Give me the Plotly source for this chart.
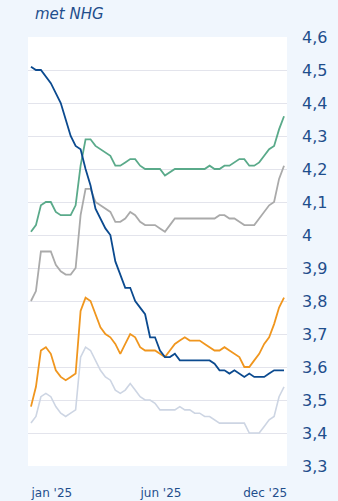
import plotly.graph_objects as go

weeks = list(range(52))

tick_labels = ["jan '25", "jun '25", "dec '25"]
tick_positions = [4.2, 26.2, 47.2]

serie_blauw = [4.51, 4.50, 4.50, 4.48, 4.46, 4.43, 4.40, 4.35, 4.30, 4.27, 4.26, 4.20, 4.15, 4.08, 4.05, 4.02,
               4.00, 3.92, 3.88, 3.84, 3.84, 3.80, 3.78, 3.76, 3.69, 3.69, 3.65, 3.63, 3.63, 3.64, 3.62, 3.62,
               3.62, 3.62, 3.62, 3.62, 3.62, 3.61, 3.59, 3.59, 3.58, 3.59, 3.58, 3.57, 3.58, 3.57, 3.57, 3.57,
               3.58, 3.59, 3.59, 3.59]
serie_groen = [4.01, 4.03, 4.09, 4.10, 4.10, 4.07, 4.06, 4.06, 4.06, 4.09, 4.21, 4.29, 4.29, 4.27, 4.26, 4.25,
               4.24, 4.21, 4.21, 4.22, 4.23, 4.23, 4.21, 4.20, 4.20, 4.20, 4.20, 4.18, 4.19, 4.20, 4.20, 4.20,
               4.20, 4.20, 4.20, 4.20, 4.21, 4.20, 4.20, 4.21, 4.21, 4.22, 4.23, 4.23, 4.21, 4.21, 4.22, 4.24,
               4.26, 4.27, 4.32, 4.36]
serie_grijs = [3.80, 3.83, 3.95, 3.95, 3.95, 3.91, 3.89, 3.88, 3.88, 3.90, 4.06, 4.14, 4.14, 4.10, 4.09, 4.08,
               4.07, 4.04, 4.04, 4.05, 4.07, 4.06, 4.04, 4.03, 4.03, 4.03, 4.02, 4.01, 4.03, 4.05, 4.05, 4.05,
               4.05, 4.05, 4.05, 4.05, 4.05, 4.05, 4.06, 4.06, 4.05, 4.05, 4.04, 4.03, 4.03, 4.03, 4.05, 4.07,
               4.09, 4.10, 4.17, 4.21]
serie_oranje = [3.48, 3.54, 3.65, 3.66, 3.64, 3.59, 3.57, 3.56, 3.57, 3.58, 3.77, 3.81, 3.80, 3.76, 3.72, 3.70,
                3.69, 3.67, 3.64, 3.67, 3.70, 3.69, 3.66, 3.65, 3.65, 3.65, 3.64, 3.63, 3.65, 3.67, 3.68, 3.69,
                3.68, 3.68, 3.68, 3.67, 3.66, 3.65, 3.65, 3.66, 3.65, 3.64, 3.63, 3.60, 3.60, 3.62, 3.64, 3.67,
                3.69, 3.73, 3.78, 3.81]
serie_lichtgrijs = [3.43, 3.45, 3.51, 3.52, 3.51, 3.48, 3.46, 3.45, 3.46, 3.47, 3.63, 3.66, 3.65, 3.62, 3.59, 3.57,
                    3.56, 3.53, 3.52, 3.53, 3.55, 3.53, 3.51, 3.50, 3.50, 3.49, 3.47, 3.47, 3.47, 3.47, 3.48, 3.47,
                    3.47, 3.46, 3.46, 3.45, 3.45, 3.44, 3.43, 3.43, 3.43, 3.43, 3.43, 3.43, 3.40, 3.40, 3.40, 3.42,
                    3.44, 3.45, 3.51, 3.54]

series = [
    (serie_lichtgrijs, "#cdd5e3", 1.6),
    (serie_grijs, "#aaaaaa", 1.8),
    (serie_groen, "#5aaa8a", 1.8),
    (serie_oranje, "#f0961e", 1.8),
    (serie_blauw, "#0b4a8f", 1.8),
]

fig = go.Figure()
for vals, col, w in series:
    fig.add_trace(go.Scatter(x=weeks, y=vals, mode="lines",
                             line=dict(color=col, width=w), showlegend=False,
                             hoverinfo="skip"))

txt = "#1f4e8c"
fig.update_layout(
    width=338, height=501,
    margin=dict(l=28, r=51, t=37, b=35),
    paper_bgcolor="#f0f6fd",
    plot_bgcolor="#ffffff",
    separators=", ",
    font=dict(family="Verdana, DejaVu Sans, sans-serif", color=txt),
    xaxis=dict(range=[-0.6, 51.6], showgrid=False, zeroline=False, showline=False,
               tickmode="array", tickvals=tick_positions, ticktext=tick_labels,
               ticks="", ticklabelstandoff=18, automargin=False,
               tickfont=dict(size=12, color=txt)),
    yaxis=dict(range=[3.3, 4.6], side="right", dtick=0.1, tick0=3.3,
               showgrid=True, gridcolor="#e3e4ec", gridwidth=1, zeroline=False, showline=False,
               ticks="", ticklabelstandoff=14, automargin=False,
               tickfont=dict(size=16, color=txt)),
    annotations=[dict(text="<i>met NHG</i>", xref="paper", yref="paper",
                      x=0.020, y=1.054, xanchor="left", yanchor="middle", showarrow=False,
                      font=dict(size=15, color=txt))],
)

fig.write_html("out.html")
